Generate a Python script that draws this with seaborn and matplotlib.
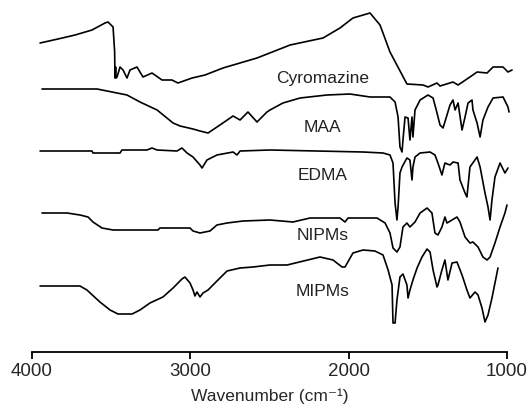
import numpy as np
import pandas as pd
import matplotlib
matplotlib.use("Agg")
import matplotlib.pyplot as plt
import seaborn as sns

# FTIR spectra, transmittance in arbitrary units (already offset / stacked)
cyro_wn = [3949, 3836, 3728, 3621, 3539, 3520, 3488, 3478, 3476, 3472, 3469, 3463, 3444, 3425,
           3400, 3381, 3337, 3299, 3242, 3179, 3116, 3078, 2989, 2907, 2794, 2579, 2370, 2162,
           2055, 1973, 1865, 1802, 1739, 1632, 1530, 1499, 1442, 1423, 1341, 1309, 1234, 1189,
           1126, 1088, 1025, 994, 968]
cyro_t = [309, 313, 317, 322, 329, 330, 325, 300, 274, 285, 274, 275, 285, 282,
          274, 282, 285, 275, 279, 272, 272, 269, 274, 277, 284, 294, 307, 314,
          324, 334, 339, 327, 300, 268, 267, 265, 269, 266, 270, 267, 275, 280,
          279, 285, 285, 280, 282]

maa_wn = [3937, 3589, 3463, 3400, 3318, 3210, 3109, 3065, 2983, 2939, 2888, 2813, 2730, 2686,
          2636, 2579, 2516, 2497, 2415, 2307, 2137, 1992, 1865, 1739, 1707, 1688, 1676, 1663,
          1657, 1644, 1625, 1613, 1600, 1594, 1581, 1549, 1499, 1467, 1442, 1423, 1404, 1379,
          1360, 1341, 1328, 1309, 1284, 1265, 1246, 1221, 1215, 1189, 1170, 1152, 1120, 1088,
          1025, 994, 987]
maa_t = [263, 263, 259, 257, 250, 242, 229, 226, 223, 221, 219, 227, 236, 232,
         240, 230, 240, 242, 249, 254, 257, 258, 255, 255, 250, 235, 205, 200,
         212, 235, 234, 212, 235, 215, 242, 252, 257, 254, 239, 227, 224, 237,
         247, 252, 242, 249, 222, 235, 249, 252, 242, 229, 215, 232, 245, 254,
         255, 245, 240]

edma_wn = [3949, 3621, 3615, 3444, 3432, 3274, 3242, 3210, 3084, 3053, 3021, 2983, 2939, 2926,
           2895, 2832, 2730, 2705, 2686, 2497, 1909, 1783, 1739, 1720, 1707, 1695, 1688, 1676,
           1663, 1632, 1613, 1600, 1594, 1581, 1549, 1486, 1455, 1436, 1411, 1392, 1360, 1341,
           1309, 1297, 1265, 1253, 1234, 1189, 1170, 1139, 1120, 1107, 1095, 1076, 1044, 1013, 994]
edma_t = [201, 201, 199, 199, 202, 202, 204, 202, 201, 204, 199, 195, 187, 184,
          192, 197, 200, 197, 201, 202, 200, 199, 197, 189, 149, 132, 145, 179,
          185, 194, 192, 172, 185, 195, 199, 200, 197, 189, 177, 189, 187, 190,
          189, 172, 159, 155, 185, 195, 185, 159, 145, 132, 152, 175, 189, 179, 184]

nipm_wn = [3937, 3779, 3697, 3646, 3615, 3558, 3488, 3204, 3192, 3002, 2983, 2939, 2876, 2832,
           2768, 2667, 2497, 2352, 2244, 2055, 2023, 2004, 1821, 1770, 1739, 1720, 1695, 1676,
           1657, 1632, 1613, 1581, 1549, 1505, 1474, 1455, 1436, 1411, 1392, 1379, 1347, 1316,
           1297, 1265, 1234, 1215, 1183, 1152, 1126, 1107, 1076, 1044, 1013, 1000]
nipm_t = [139, 139, 137, 135, 130, 124, 122, 122, 124, 124, 121, 119, 121, 127,
          129, 131, 132, 130, 134, 134, 130, 134, 134, 129, 119, 104, 100, 105,
          125, 129, 125, 130, 139, 144, 139, 119, 117, 125, 135, 129, 132, 135,
          130, 115, 109, 110, 105, 95, 92, 95, 109, 125, 139, 147]

mipm_wn = [3949, 3697, 3653, 3571, 3507, 3457, 3368, 3318, 3255, 3173, 3109, 3053, 3034, 3002,
           2983, 2971, 2958, 2939, 2920, 2888, 2832, 2768, 2686, 2604, 2497, 2389, 2181, 2099,
           2042, 2023, 1973, 1909, 1834, 1783, 1751, 1726, 1720, 1707, 1695, 1676, 1657, 1632,
           1625, 1613, 1594, 1568, 1537, 1505, 1486, 1467, 1442, 1436, 1411, 1392, 1373, 1347,
           1316, 1284, 1253, 1234, 1202, 1183, 1158, 1139, 1120, 1095, 1076, 1057]
mipm_t = [66, 66, 62, 50, 42, 38, 38, 42, 49, 55, 64, 73, 75, 69,
          62, 56, 60, 55, 59, 62, 71, 81, 84, 85, 87, 87, 95, 92,
          85, 85, 99, 102, 101, 97, 82, 67, 29, 29, 52, 75, 78, 67,
          54, 62, 72, 84, 95, 103, 100, 82, 65, 67, 82, 92, 72, 89,
          90, 77, 62, 54, 60, 57, 44, 30, 37, 54, 69, 84]

names = ["Cyromazine", "MAA", "EDMA", "NIPMs", "MIPMs"]
label_wn = 2165
label_t = [274, 225, 177, 117, 60]

spectra = pd.concat([
    pd.DataFrame({"wn": w, "t": t, "sample": n})
    for w, t, n in zip([cyro_wn, maa_wn, edma_wn, nipm_wn, mipm_wn],
                       [cyro_t, maa_t, edma_t, nipm_t, mipm_t], names)
])

sns.set_style("white")
plt.rcParams["font.family"] = ["Liberation Sans", "DejaVu Sans"]

fig = plt.figure(figsize=(5.31, 4.12), dpi=100)
ax = fig.add_axes([32 / 531, 60 / 412, 475 / 531, 352 / 412])

for n in names:
    sns.lineplot(data=spectra[spectra["sample"] == n], x="wn", y="t", sort=False,
                 estimator=None, color="black", linewidth=1.2, ax=ax, clip_on=False)

for n, yt in zip(names, label_t):
    ax.text(label_wn, yt, n, ha="center", va="center", fontsize=12.5, color="#222222")

ax.set_xlim(4000, 1000)
ax.set_ylim(0, 352)
ax.set_xticks([4000, 3000, 2000, 1000])
ax.set_yticks([])
ax.set_xlabel("Wavenumber (cm⁻¹)", fontsize=12.5, labelpad=6)
ax.set_ylabel("")
ax.tick_params(axis="x", direction="out", length=5, width=1.3, labelsize=13.5,
               pad=3, bottom=True, color="black")
for s in ["left", "top", "right"]:
    ax.spines[s].set_visible(False)
ax.spines["bottom"].set_linewidth(1.3)
ax.spines["bottom"].set_color("black")

fig.savefig("out.png", dpi=100)
